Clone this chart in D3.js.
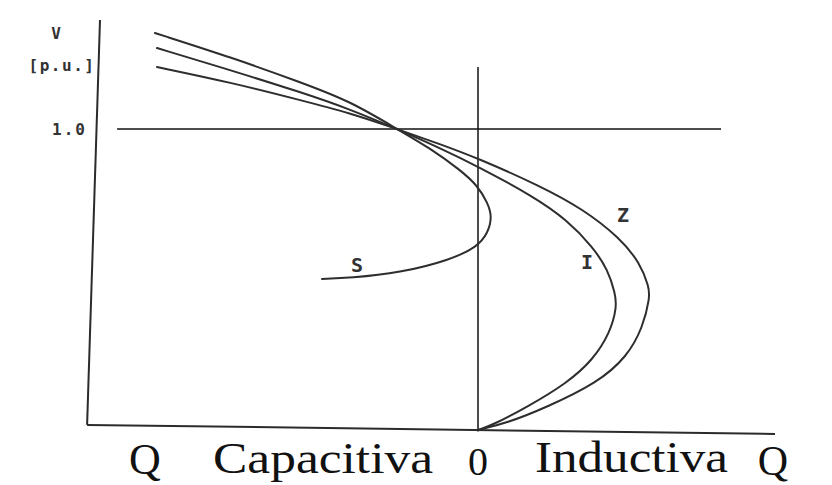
<!DOCTYPE html>
<html>
<head>
<meta charset="utf-8">
<script src="https://cdn.jsdelivr.net/npm/d3@7"></script>
<style>
  html, body { margin: 0; padding: 0; background: #fff; }
  svg { display: block; }
  .mono { font-family: "DejaVu Sans Mono", "Liberation Mono", monospace; font-weight: bold; fill: #333; }
  .serif { font-family: "Liberation Serif", "DejaVu Serif", serif; fill: #111; }
</style>
</head>
<body>
<svg id="chart" width="832" height="485"></svg>
<script>
// curves V-Q, Q in p.u. (negative = capacitiva), V in p.u.
const curveS = [
    [-1.077, 1.319], [-0.817, 1.236], [-0.593, 1.156], [-0.427, 1.093], [-0.270, 1.000],
    [-0.150, 0.930], [-0.060, 0.864], [-0.003, 0.814], [0.033, 0.754], [0.047, 0.708],
    [0.033, 0.654], [-0.003, 0.608], [-0.093, 0.565], [-0.260, 0.522], [-0.427, 0.505],
    [-0.520, 0.502]
];
const curveI = [
    [-1.070, 1.269], [-0.817, 1.193], [-0.593, 1.123], [-0.427, 1.066], [-0.270, 1.000],
    [-0.127, 0.937], [-0.003, 0.877], [0.183, 0.777], [0.297, 0.698], [0.383, 0.608],
    [0.433, 0.532], [0.457, 0.455], [0.463, 0.409], [0.440, 0.322], [0.383, 0.233],
    [0.297, 0.156], [0.163, 0.076], [0.050, 0.017], [0.000, 0.000]
];
const curveZ = [
    [-1.070, 1.206], [-0.817, 1.153], [-0.593, 1.096], [-0.427, 1.053], [-0.270, 1.000],
    [-0.127, 0.950], [-0.003, 0.904], [0.207, 0.811], [0.350, 0.734], [0.473, 0.638],
    [0.540, 0.555], [0.570, 0.475], [0.573, 0.442], [0.550, 0.342], [0.497, 0.243],
    [0.397, 0.156], [0.230, 0.076], [0.097, 0.023], [0.000, 0.000]
];
const curveNames = ["S", "I", "Z"];
const refV = 1.0;
const tickLabel = "1.0";
const axisLabels = ["Q", "Capacitiva", "0", "Inductiva", "Q"];

function drawChart() {
    const svg = d3.select("#chart");

    // escalas: 1 p.u. de Q ~ 300 px, 1 p.u. de V ~ 301 px
    const x = d3.scaleLinear().domain([-1.3, 1.0]).range([88, 778]);
    const y = d3.scaleLinear().domain([0, 1.4]).range([430, 8.6]);

    const frame = svg.append("g").attr("class", "frame");

    // eje V (un poco inclinado, como el escaneo)
    frame.append("line")
        .attr("x1", x(-1.26)).attr("y1", y(1.362))
        .attr("x2", x(-1.303)).attr("y2", y(0.017))
        .attr("stroke", "#2b2b2b").attr("stroke-width", 2);

    // eje Q
    frame.append("line")
        .attr("x1", x(-1.303)).attr("y1", y(0.017))
        .attr("x2", x(0.99)).attr("y2", y(-0.013))
        .attr("stroke", "#2b2b2b").attr("stroke-width", 2);

    // Q = 0
    frame.append("line")
        .attr("x1", x(0)).attr("y1", y(1.206))
        .attr("x2", x(0)).attr("y2", y(-0.005))
        .attr("stroke", "#111").attr("stroke-width", 1.5);

    // V = 1.0
    frame.append("line")
        .attr("x1", x(-1.203)).attr("y1", y(refV))
        .attr("x2", x(0.81)).attr("y2", y(refV))
        .attr("stroke", "#111").attr("stroke-width", 1.5);

    // curvas suavizadas
    const line = d3.line()
        .x(d => x(d[0]))
        .y(d => y(d[1]))
        .curve(d3.curveBasis);

    svg.append("g")
        .selectAll("path")
        .data([curveS, curveI, curveZ])
        .enter()
        .append("path")
        .attr("d", line)
        .attr("fill", "none")
        .attr("stroke", "#2e2e2e")
        .attr("stroke-width", 2)
        .attr("stroke-linecap", "round");

    // etiquetas de curvas
    const curveLabelPos = { S: [-0.403, 0.548], I: [0.363, 0.558], Z: [0.483, 0.714] };
    svg.append("g")
        .selectAll("text")
        .data(curveNames)
        .enter()
        .append("text")
        .attr("class", "mono")
        .attr("x", d => x(curveLabelPos[d][0]))
        .attr("y", d => y(curveLabelPos[d][1]))
        .attr("text-anchor", "middle")
        .attr("dominant-baseline", "central")
        .style("font-size", "20px")
        .text(d => d);

    // eje V: textos
    svg.append("text").attr("class", "mono")
        .attr("x", 56).attr("y", 33)
        .attr("text-anchor", "middle").attr("dominant-baseline", "central")
        .style("font-size", "16px")
        .text("V");
    svg.append("text").attr("class", "mono")
        .attr("x", 62).attr("y", 65)
        .attr("text-anchor", "middle").attr("dominant-baseline", "central")
        .style("font-size", "16px").style("letter-spacing", "1.5px")
        .text("[p.u.]");
    svg.append("text").attr("class", "mono")
        .attr("x", 87).attr("y", y(refV))
        .attr("text-anchor", "end").attr("dominant-baseline", "central")
        .style("font-size", "16px").style("letter-spacing", "2px")
        .text(tickLabel);

    // eje Q: textos (serif tipo LaTeX)
    const bottom = svg.append("g").attr("class", "serif");
    bottom.append("text")
        .attr("x", 145).attr("y", 474)
        .attr("text-anchor", "middle")
        .style("font-size", "44px")
        .text(axisLabels[0]);
    bottom.append("text")
        .attr("x", 213).attr("y", 473)
        .attr("textLength", 220).attr("lengthAdjust", "spacingAndGlyphs")
        .style("font-size", "44px")
        .text(axisLabels[1]);
    bottom.append("text")
        .attr("x", x(0)).attr("y", 475)
        .attr("text-anchor", "middle")
        .style("font-size", "40px")
        .text(axisLabels[2]);
    bottom.append("text")
        .attr("x", 535).attr("y", 472)
        .attr("textLength", 193).attr("lengthAdjust", "spacingAndGlyphs")
        .style("font-size", "44px")
        .text(axisLabels[3]);
    bottom.append("text")
        .attr("x", 773).attr("y", 475)
        .attr("text-anchor", "middle")
        .style("font-size", "42px")
        .text(axisLabels[4]);
}

drawChart();
</script>
</body>
</html>
